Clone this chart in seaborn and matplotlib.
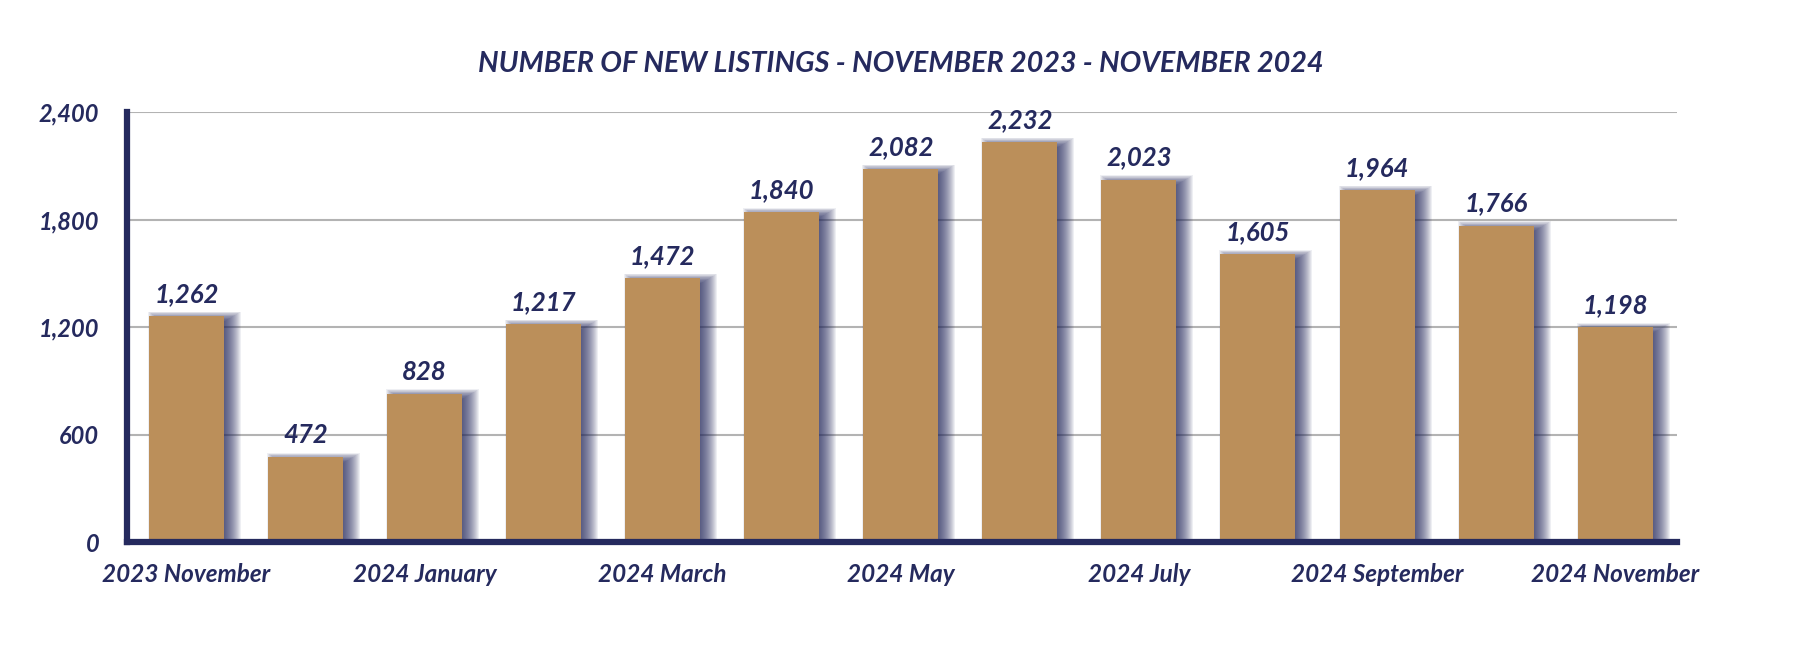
import numpy as np
import pandas as pd
import seaborn as sns
import matplotlib.pyplot as plt

# monthly new listings
months = ["2023 November", "2023 December", "2024 January", "2024 February",
          "2024 March", "2024 April", "2024 May", "2024 June", "2024 July",
          "2024 August", "2024 September", "2024 October", "2024 November"]
listings = [1262, 472, 828, 1217, 1472, 1840, 2082, 2232, 2023, 1605, 1964, 1766, 1198]
yticks = [0, 600, 1200, 1800, 2400]

NAVY = "#252a5e"
GOLD = "#bb8f5a"

sns.set_style("white")
plt.rcParams['font.family'] = ['Lato', 'DejaVu Sans']

df = pd.DataFrame({"month": months, "listings": listings})

fig = plt.figure(figsize=(17.94, 6.52), dpi=100)
ax = fig.add_axes([0.0708, 0.1687, 0.864, 0.6595])

bar_w = 0.63
xs = np.arange(len(months))
vals = np.array(listings)

# soft drop shadow: stacked translucent bars, shifted right
px_x = 1 / 119.0
px_y = 2400 / 430.0
for s in range(-8, 10):
    ax.bar(xs + 8 * px_x, vals + (s * 0.6 - 1) * px_y, width=bar_w + 2 * s * px_x,
           color=NAVY, alpha=0.075, linewidth=0, zorder=2)

sns.barplot(data=df, x="month", y="listings", color=GOLD, width=bar_w,
            saturation=1, linewidth=0, ax=ax, zorder=3)

for x, v in zip(xs, vals):
    ax.text(x, v + 14 * px_y, f"{v:,}", ha="center", va="baseline",
            fontsize=18.5, fontweight="bold", fontstyle="italic", color=NAVY, zorder=4)

ax.set_xlim(-0.5, 12.52)
ax.set_ylim(0, 2400)
ax.set_yticks(yticks)
ax.set_yticklabels([f"{t:,}" for t in yticks], fontsize=17, fontweight="bold",
                   fontstyle="italic", color=NAVY)
ax.set_xticks(xs[::2])
ax.set_xticklabels(months[::2], fontsize=17.5, fontweight="bold",
                   fontstyle="italic", color=NAVY)
ax.tick_params(axis="y", length=0, pad=20)
ax.tick_params(axis="x", length=0, pad=15)
ax.set_xlabel("")
ax.set_ylabel("")

ax.yaxis.grid(True, color="#b3b3b3", linewidth=1.5, zorder=0)
ax.set_axisbelow(True)
for side in ["top", "right"]:
    ax.spines[side].set_visible(False)
for side in ["left", "bottom"]:
    ax.spines[side].set_color(NAVY)
    ax.spines[side].set_linewidth(4.5)
    ax.spines[side].set_zorder(5)

fig.text(0.502, 0.902, "NUMBER OF NEW LISTINGS - NOVEMBER 2023 - NOVEMBER 2024",
         ha="center", va="center", fontsize=20.7, fontweight="bold",
         fontstyle="italic", color=NAVY)

fig.savefig("out.png", dpi=100)
